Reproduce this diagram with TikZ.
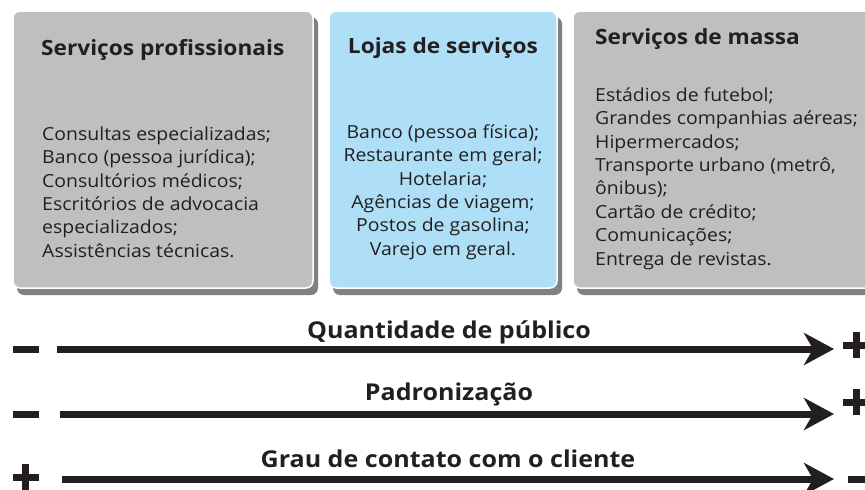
\documentclass[tikz,border=0pt]{standalone}
\usepackage{fontspec}
\setmainfont[FakeStretch=1.08]{Open Sans}
\usetikzlibrary{arrows.meta}
\definecolor{boxgray}{HTML}{BEBFC1}
\definecolor{boxblue}{HTML}{AEDFF7}
\definecolor{shadowgray}{HTML}{808184}
\definecolor{ink}{HTML}{231F20}
\newcommand{\firstline}{\rule{0pt}{15pt}}
\tikzset{
  panel/.style={rounded corners=7pt, draw=white, line width=1.5pt},
  panelshadow/.style={rounded corners=7pt, fill=shadowgray},
  title/.style={font=\bfseries\fontsize{21}{25}\selectfont, text=ink, inner sep=0pt, anchor=base west},
  body/.style={font=\fontsize{18}{23.4}\selectfont, text=ink, inner sep=0pt, align=left, anchor=north west},
  axislabel/.style={font=\bfseries\fontsize{23.2}{27}\selectfont, text=ink, inner sep=0pt, anchor=base},
  axis/.style={line width=7pt, ink, -{Stealth[length=30pt,width=32pt,inset=9pt]}},
  bar/.style={fill=ink, inner sep=0pt, minimum width=26pt, minimum height=7pt},
  vbar/.style={fill=ink, inner sep=0pt, minimum width=7pt, minimum height=26pt},
}
\begin{document}
\begin{tikzpicture}[x=1pt,y=-1pt]
\useasboundingbox (0,0) rectangle (865,490);
% shadows
\fill[panelshadow] (17,17) rectangle (318,295);
\fill[panelshadow] (333,17) rectangle (562,295);
\fill[panelshadow] (577,17) rectangle (890,295);
% panels
\filldraw[panel, fill=boxgray] (13,11) rectangle (313,288);
\filldraw[panel, fill=boxblue] (329,11) rectangle (557,288);
\filldraw[panel, fill=boxgray] (573,11) rectangle (885,288);
% titles
\node[title] (t1) at (41,55) {Serviços profissionais};
\node[title, anchor=base] (t2) at (443,53) {Lojas de serviços};
\node[title] (t3) at (595,44) {Serviços de massa};
% bodies
\node[body] (b1) at (42,125) {\firstline Consultas especializadas;\\Banco (pessoa jurídica);\\Consultórios médicos;\\Escritórios de advocacia\\especializados;\\Assistências técnicas.};
\node[body, align=center, anchor=north] (b2) at (443,123) {\firstline Banco (pessoa física);\\Restaurante em geral;\\Hotelaria;\\Agências de viagem;\\Postos de gasolina;\\Varejo em geral.};
\node[body] (b3) at (595,86) {\firstline Estádios de futebol;\\Grandes companhias aéreas;\\Hipermercados;\\Transporte urbano (metrô,\\ônibus);\\Cartão de crédito;\\Comunicações;\\Entrega de revistas.};
% axis labels
\node[axislabel] (l1) at (449,338) {Quantidade de público};
\node[axislabel] (l2) at (449,400) {Padronização};
\node[axislabel] (l3) at (448,467) {Grau de contato com o cliente};
% axes
\coordinate (a1s) at (57,349); \coordinate (a1e) at (834,349);
\coordinate (a2s) at (60,414); \coordinate (a2e) at (834,414);
\coordinate (a3s) at (62,479); \coordinate (a3e) at (834,479);
\draw[axis] (a1s) -- (a1e);
\draw[axis] (a2s) -- (a2e);
\draw[axis] (a3s) -- (a3e);
% signs
\node[bar] (m1) at (25.5,349) {};
\node[bar] (m2) at (25.5,414) {};
\node[bar] (p3h) at (25.5,477) {}; \node[vbar] (p3v) at (25.5,477) {};
\node[bar] (p1h) at (856,345) {}; \node[vbar] (p1v) at (856,345) {};
\node[bar] (p2h) at (856,402) {}; \node[vbar] (p2v) at (856,402) {};
\node[bar] (m3) at (861,479) {};
\end{tikzpicture}
\end{document}
